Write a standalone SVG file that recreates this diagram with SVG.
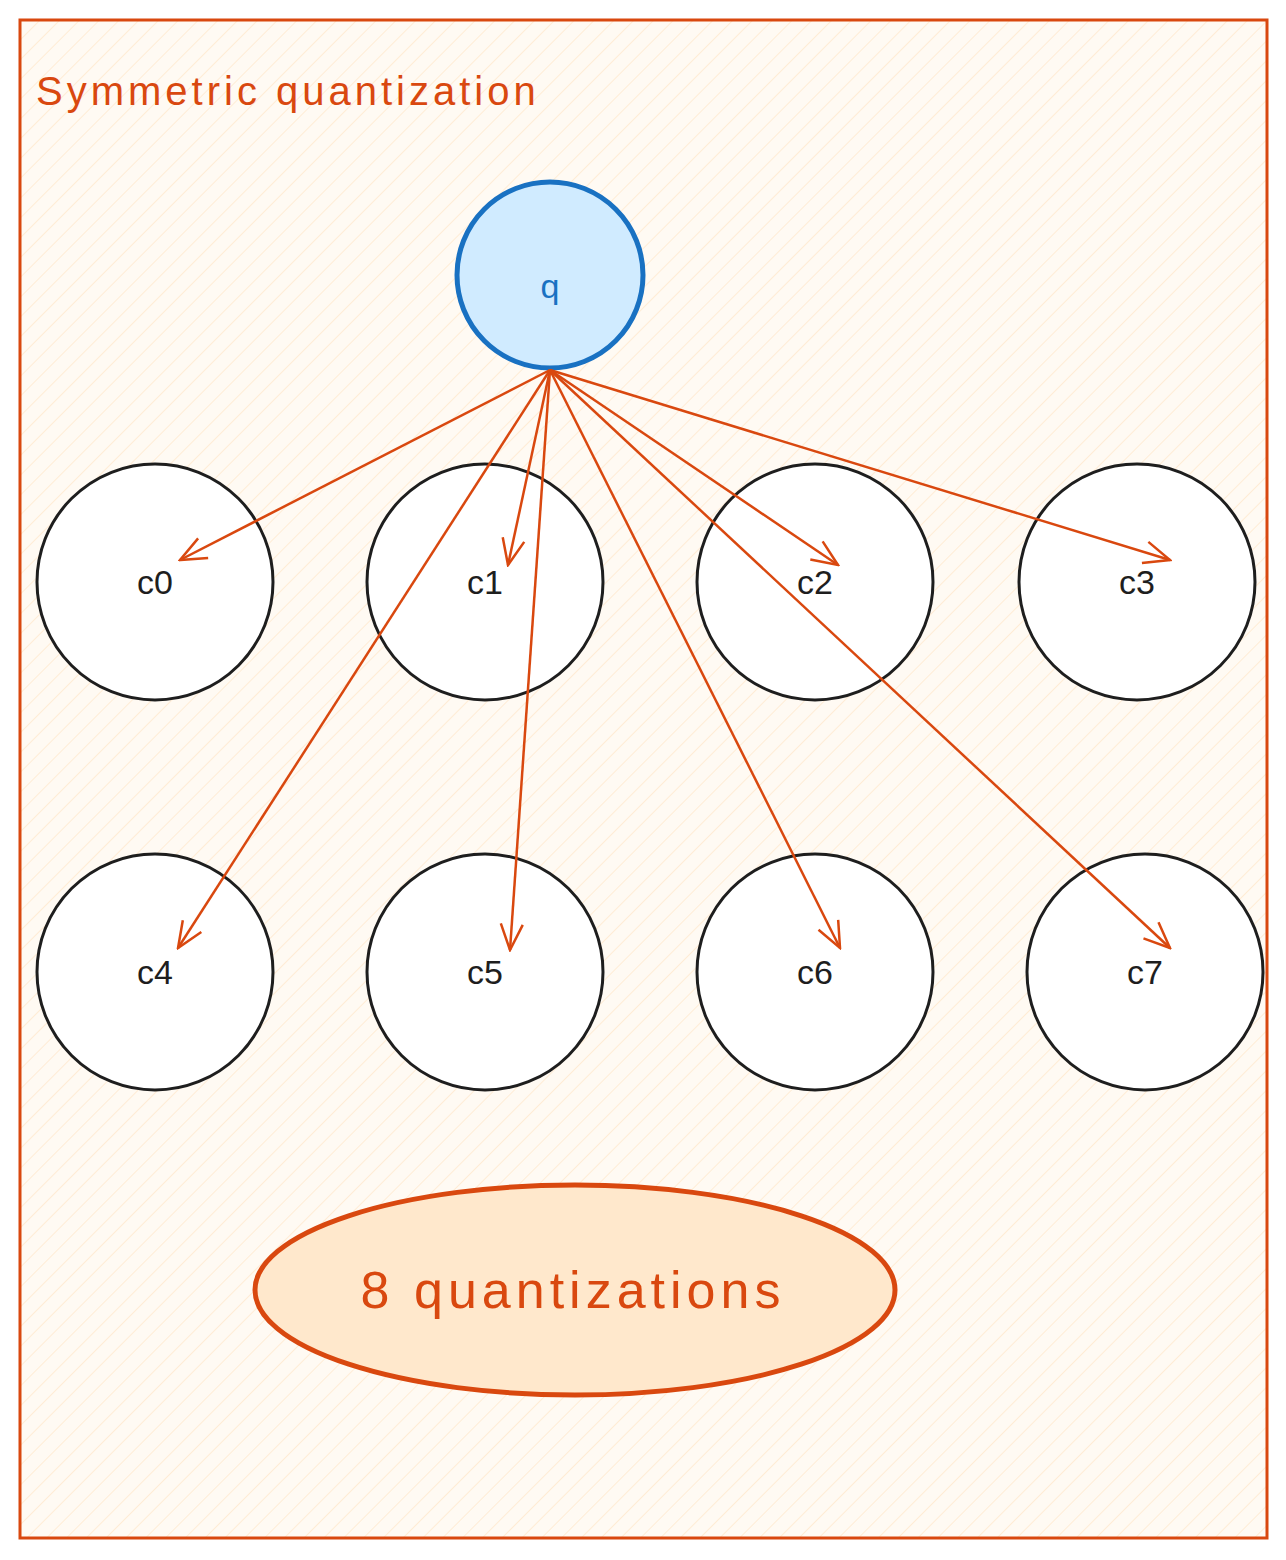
<svg xmlns="http://www.w3.org/2000/svg" width="1286" height="1560" viewBox="0 0 1286 1560">
<defs>
<pattern id="hatch" width="14" height="14" patternUnits="userSpaceOnUse" patternTransform="rotate(45)">
<rect width="14" height="14" fill="#fffaf3"/>
<line x1="0" y1="0" x2="0" y2="14" stroke="#ffe8cc" stroke-width="1.5"/>
</pattern>
<marker id="ah" markerWidth="30" markerHeight="30" refX="28" refY="15" orient="auto" markerUnits="userSpaceOnUse">
<path d="M2,4 L28,15 L2,26" fill="none" stroke="#d9480f" stroke-width="2.5"/>
</marker>
<style>
.c{fill:#ffffff;stroke:#1e1e1e;stroke-width:3}
.t{font-family:"Liberation Sans",Arial,sans-serif;font-size:34px;fill:#1e1e1e;text-anchor:middle}
.a{stroke:#d9480f;stroke-width:2.5;fill:none;marker-end:url(#ah)}
</style>
</defs>
<g id="frame">
<rect x="20" y="20" width="1247" height="1518" fill="url(#hatch)" stroke="#d9480f" stroke-width="3"/>
<text x="36" y="105" font-family="Liberation Sans,Arial,sans-serif" font-size="40" letter-spacing="4" fill="#d9480f">Symmetric quantization</text>
</g>
<g id="q"><circle cx="550" cy="275" r="93" fill="#d0ebff" stroke="#1971c2" stroke-width="5"/><text class="t" x="550" y="298" style="fill:#1971c2">q</text></g>
<g id="c0"><circle class="c" cx="155" cy="582" r="118"/><text class="t" x="155" y="594">c0</text></g>
<g id="c1"><circle class="c" cx="485" cy="582" r="118"/><text class="t" x="485" y="594">c1</text></g>
<g id="c2"><circle class="c" cx="815" cy="582" r="118"/><text class="t" x="815" y="594">c2</text></g>
<g id="c3"><circle class="c" cx="1137" cy="582" r="118"/><text class="t" x="1137" y="594">c3</text></g>
<g id="c4"><circle class="c" cx="155" cy="972" r="118"/><text class="t" x="155" y="984">c4</text></g>
<g id="c5"><circle class="c" cx="485" cy="972" r="118"/><text class="t" x="485" y="984">c5</text></g>
<g id="c6"><circle class="c" cx="815" cy="972" r="118"/><text class="t" x="815" y="984">c6</text></g>
<g id="c7"><circle class="c" cx="1145" cy="972" r="118"/><text class="t" x="1145" y="984">c7</text></g>
<g id="summary"><ellipse cx="575" cy="1290" rx="320" ry="105" fill="#ffe8cc" stroke="#d9480f" stroke-width="5"/>
<text x="573" y="1308" font-family="Liberation Sans,Arial,sans-serif" font-size="52" letter-spacing="5" fill="#d9480f" text-anchor="middle">8 quantizations</text></g>
<g id="connectors">
<line class="a" x1="550" y1="370" x2="180" y2="560"/>
<line class="a" x1="550" y1="370" x2="508" y2="565"/>
<line class="a" x1="550" y1="370" x2="838" y2="565"/>
<line class="a" x1="550" y1="370" x2="1170" y2="560"/>
<line class="a" x1="550" y1="370" x2="178" y2="948"/>
<line class="a" x1="550" y1="370" x2="510" y2="950"/>
<line class="a" x1="550" y1="370" x2="840" y2="948"/>
<line class="a" x1="550" y1="370" x2="1170" y2="948"/>
</g>
</svg>
